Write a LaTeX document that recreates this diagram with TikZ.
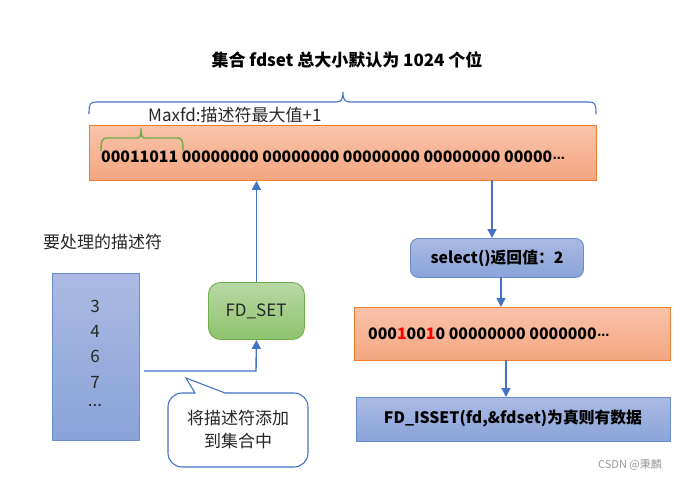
\documentclass[tikz,border=0pt]{standalone}
\usepackage{fontspec}
\setmainfont{Noto Sans CJK SC}
\newfontfamily\symfont{DejaVu Sans}
\newcommand{\mdots}{{\symfont\fontsize{12}{12}\selectfont\kern0.5pt⋯}}
\usetikzlibrary{arrows.meta}
\definecolor{lnblue}{HTML}{4472C4}
\definecolor{orbord}{HTML}{ED7D31}
\definecolor{ortop}{HTML}{F8C3AA}
\definecolor{orbot}{HTML}{F4A681}
\definecolor{bltop}{HTML}{AABAE3}
\definecolor{blbot}{HTML}{8AA3D9}
\definecolor{blbord}{HTML}{6A8CCD}
\definecolor{grtop}{HTML}{B8D8A4}
\definecolor{grbot}{HTML}{8EC36E}
\definecolor{grbord}{HTML}{70AD47}
\tikzset{
  txt/.style={font=\fontsize{17}{20}\selectfont, inner sep=0pt},
  ttl/.style={font=\fontsize{17}{20}\selectfont\bfseries, inner sep=0pt},
  btxt/.style={font=\fontsize{15.8}{19}\selectfont\bfseries, inner sep=0pt},
  orbox/.style={draw=orbord, line width=0.9pt, top color=ortop, bottom color=orbot, inner sep=0pt},
  blbox/.style={draw=blbord, line width=0.9pt, top color=bltop, bottom color=blbot, inner sep=0pt},
  grbox/.style={draw=grbord, line width=0.9pt, top color=grtop, bottom color=grbot, inner sep=0pt, rounded corners=12pt},
  arr/.style={draw=lnblue, line width=1.4pt, -{Triangle[length=9pt,width=9pt]}},
}
\begin{document}
\begin{tikzpicture}[x=1pt,y=-1pt]
\useasboundingbox (0,0) rectangle (684,481);
% title
\node[ttl] (title) at (347,60) {集合 fdset 总大小默认为 1024 个位};
% big blue brace
\draw[lnblue, line width=1.1pt] (89,114) .. controls (89,104) and (90,102) .. (96,102) -- (336,102) .. controls (341,102) and (343,100) .. (343,92) .. controls (343,100) and (345,102) .. (350,102) -- (589,102) .. controls (595,102) and (596,104) .. (596,114);
% orange bits box
\node[orbox, minimum width=507pt, minimum height=55pt, anchor=north west] (bits) at (89,125) {};
\node[btxt, anchor=west] (bitstext) at (101,157) {00011011 00000000 00000000 00000000 00000000 00000\mdots};
% green brace
\draw[grbord, line width=1.4pt] (101,151) .. controls (101,141) and (102,138) .. (107,138) -- (137,138) .. controls (140,138) and (141,136) .. (141,128) .. controls (141,136) and (142,138) .. (145,138) -- (178,138) .. controls (182,138) and (183,141) .. (183,151);
\node[txt, anchor=west, text=black!85] (maxfd) at (148,115) {Maxfd:描述符最大值+1};
% left label
\node[txt, anchor=west, text=black!85] (label) at (43,242) {要处理的描述符};
% descriptor list
\node[blbox, minimum width=87pt, minimum height=167pt, anchor=north west] (list) at (52,273) {};
\node[txt, text=black!85] (n3) at (95,306) {3};
\node[txt, text=black!85] (n4) at (95,331) {4};
\node[txt, text=black!85] (n6) at (95,356) {6};
\node[txt, text=black!85] (n7) at (95,382) {7};
\node[txt, text=black!85] (ndots) at (95,406) {...};
% FD_SET
\node[grbox, minimum width=96pt, minimum height=57pt, anchor=north west] (fdset) at (208,282) {};
\node[txt, text=black!85] (fdsettext) at (256,311) {FD\_SET};
\draw[arr] (fdset.north) -- (fdset.north |- bits.south);
\coordinate (lstart) at (144,371);
\draw[arr] (lstart) -- (256,371) -- (fdset.south);
% callout
\draw[lnblue, line width=1.1pt, fill=white] (186,378) -- (225,393) [rounded corners=14pt] -- (308,393) -- (308,467) -- (168,467) -- (168,393) [sharp corners] -- (195,393) -- cycle;
\node[txt, align=center, text=black!85] (callout) at (238,430) {将描述符添加\\[3pt]到集合中};
% select box
\node[blbox, rounded corners=8pt, minimum width=173pt, minimum height=39pt, anchor=north west] (sel) at (410,238) {};
\node[btxt] (seltext) at (497,258) {select()返回值：2};
\draw[arr] (492,180) -- (492,238);
% result bits
\node[orbox, minimum width=316pt, minimum height=53pt, anchor=north west] (res) at (354,307) {};
\node[btxt, anchor=west] (restext) at (368,334) {000\textcolor{red}{1}00\textcolor{red}{1}0 00000000 0000000\mdots};
\draw[arr] (501,277) -- (501,307);
% FD_ISSET box
\node[blbox, minimum width=314pt, minimum height=44pt, anchor=north west] (isset) at (356,397) {};
\node[btxt] (issettext) at (513,419) {FD\_ISSET(fd,\&fdset)为真则有数据};
\draw[arr] (506,360) -- (506,397);
% watermark
\node[font=\fontsize{11}{13}\selectfont, text=black!40, inner sep=0pt] (wm) at (630,465) {CSDN @秉麟};
\end{tikzpicture}
\end{document}
